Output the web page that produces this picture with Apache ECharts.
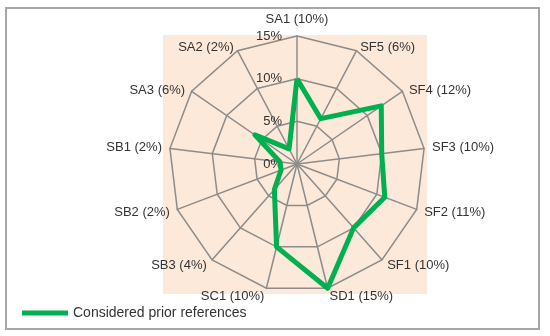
<!DOCTYPE html>
<html>
<head>
<meta charset="utf-8">
<script src="https://cdn.jsdelivr.net/npm/echarts@6/dist/echarts.min.js"></script>
<style>
html,body{margin:0;padding:0;background:#fff;}
#c{width:550px;height:336px;}
</style>
</head>
<body>
<div id="c"></div>
<script>
// Indicators listed counter-clockwise from the top (ECharts radar direction)
const categories = ['SA1 (10%)','SA2 (2%)','SA3 (6%)','SB1 (2%)','SB2 (2%)','SB3 (4%)','SC1 (10%)','SD1 (15%)','SF1 (10%)','SF2 (11%)','SF3 (10%)','SF4 (12%)','SF5 (6%)'];
const values = [10, 2, 6, 2, 2, 4, 10, 15, 10, 11, 10, 12, 6];
const seriesName = 'Considered prior references';
const axisMax = 15;
const tickSuffix = '%';

const chart = echarts.init(document.getElementById('c'), null, {renderer:'canvas'});
const font = '"Liberation Sans", "Noto Sans", sans-serif';
const indicator = categories.map((c, i) => {
  const o = {name: c, max: axisMax, min: 0};
  if (i === 0) {
    o.axisLabel = {show: true, formatter: v => v + tickSuffix, color: '#333', fontSize: 13, fontFamily: font, margin: 15, padding: [5, 0, 0, 0], showMinLabel: true, showMaxLabel: true};
  }
  return o;
});
// upper-side labels sit a little lower in the reference
const lowered = new Set([1, 2, 11, 12]);
chart.setOption({
  backgroundColor: '#fff',
  animation: false,
  graphic: [
    {type:'rect', z:-10, shape:{x:6, y:8, width:533, height:321}, style:{fill:'#fff', stroke:'#a6a6a6', lineWidth:2}},
    {type:'rect', z:-5, shape:{x:163, y:35, width:264, height:259}, style:{fill:'#FDE9D9'}}
  ],
  legend: {
    data: [seriesName],
    left: 22, top: 306, padding: 0,
    icon: 'rect', itemWidth: 46, itemHeight: 5, itemGap: 4,
    textStyle: {color:'#333', fontSize: 14, fontFamily: font}
  },
  radar: {
    center: [297, 164],
    radius: 128,
    startAngle: 90,
    shape: 'polygon',
    splitNumber: 3,
    indicator: indicator,
    axisName: {
      color:'#333', fontSize: 13, fontFamily: font,
      formatter: (name) => {
        const i = categories.indexOf(name);
        if (i === 0) return '{u|' + name + '}';
        if (lowered.has(i)) return '{d|' + name + '}';
        return name;
      },
      rich: {
        u: {color:'#333', fontSize: 13, fontFamily: font, padding: [0, 0, 2, 0]},
        d: {color:'#333', fontSize: 13, fontFamily: font, padding: [8, 0, 0, 0]}
      }
    },
    nameGap: 8,
    splitLine: {lineStyle: {color:'#8c8c8c', width: 1.5}},
    splitArea: {show: false},
    axisLine: {lineStyle: {color:'#8c8c8c', width: 1.5}},
    axisTick: {show: false},
    axisLabel: {show: false}
  },
  series: [{
    type: 'radar',
    name: seriesName,
    symbol: 'none',
    lineStyle: {color:'#00B050', width: 5},
    itemStyle: {color:'#00B050'},
    data: [{value: values, name: seriesName}]
  }]
});
</script>
</body>
</html>
